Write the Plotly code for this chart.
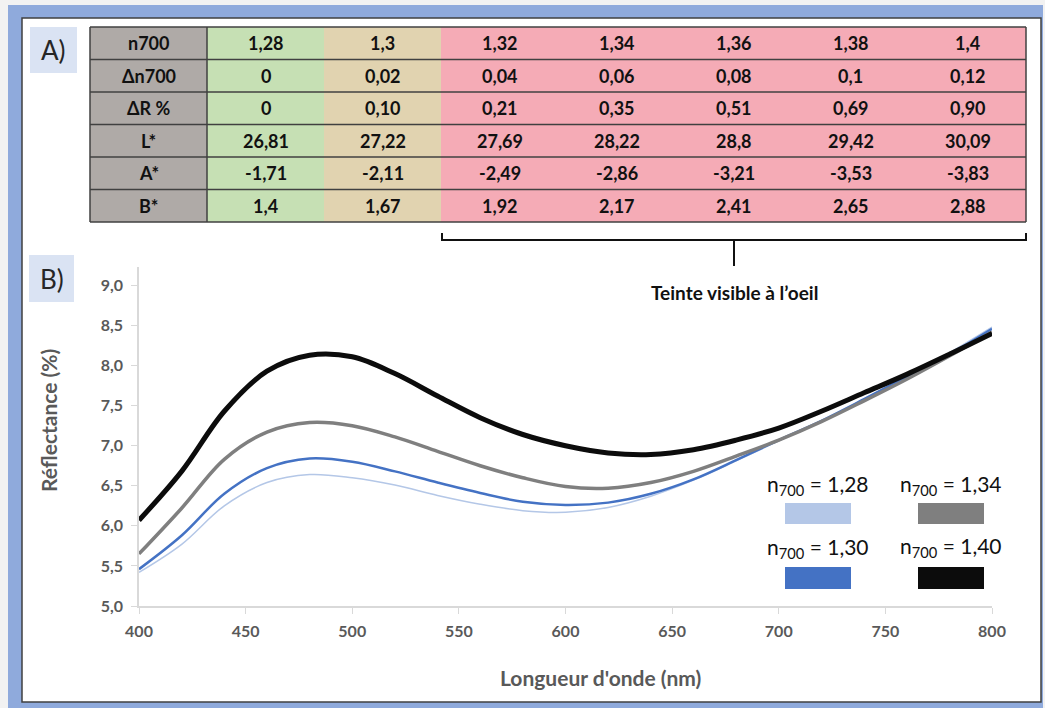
import plotly.graph_objects as go

# wavelengths (nm) and reflectance curves (%)
wl = [400, 420, 440, 460, 480, 500, 520, 540, 560, 580, 600, 620, 640, 660, 680, 700, 720, 740, 760, 780, 800]
r_128 = [5.42, 5.77, 6.25, 6.54, 6.64, 6.60, 6.51, 6.38, 6.27, 6.19, 6.17, 6.23, 6.37, 6.57, 6.81, 7.06, 7.31, 7.58, 7.87, 8.16, 8.48]
r_130 = [5.46, 5.88, 6.40, 6.72, 6.84, 6.80, 6.68, 6.54, 6.41, 6.30, 6.26, 6.29, 6.40, 6.58, 6.82, 7.07, 7.31, 7.58, 7.86, 8.14, 8.46]
r_134 = [5.65, 6.22, 6.83, 7.17, 7.29, 7.25, 7.11, 6.93, 6.75, 6.60, 6.49, 6.47, 6.54, 6.68, 6.87, 7.07, 7.30, 7.56, 7.83, 8.12, 8.42]
r_140 = [6.07, 6.68, 7.43, 7.93, 8.13, 8.11, 7.90, 7.62, 7.35, 7.14, 7.00, 6.91, 6.89, 6.95, 7.07, 7.22, 7.43, 7.66, 7.89, 8.14, 8.40]

# table A)
row_labels = ["n700", "Δn700", "ΔR %", "L*", "A*", "B*"]
n700 = ["1,28", "1,3", "1,32", "1,34", "1,36", "1,38", "1,4"]
dn700 = ["0", "0,02", "0,04", "0,06", "0,08", "0,1", "0,12"]
dR = ["0", "0,10", "0,21", "0,35", "0,51", "0,69", "0,90"]
L = ["26,81", "27,22", "27,69", "28,22", "28,8", "29,42", "30,09"]
A = ["-1,71", "-2,11", "-2,49", "-2,86", "-3,21", "-3,53", "-3,83"]
B = ["1,4", "1,67", "1,92", "2,17", "2,41", "2,65", "2,88"]
table_rows = [n700, dn700, dR, L, A, B]

legend_labels = ["1,28", "1,30", "1,34", "1,40"]

W, H = 1045, 708
FONT = "Lato"


def fx(p):
    return p / W


def fy(p):
    return 1 - p / H


def label(txt, x, y, size, color="#111111", weight="normal", angle=0):
    return dict(text=txt, xref="paper", yref="paper", x=fx(x), y=fy(y), xanchor="center", yanchor="middle",
                textangle=angle, showarrow=False, font=dict(family=FONT, size=size, color=color, weight=weight))


fig = go.Figure()

series = [(r_128, "#B4C7E7", 1.5), (r_130, "#4472C4", 2.5),
          (r_134, "#7F7F7F", 3.5), (r_140, "#0C0C0C", 5)]
for vals, col, w in series:
    fig.add_trace(go.Scatter(x=wl, y=vals, mode="lines", line=dict(color=col, width=w, shape="spline", smoothing=1),
                             showlegend=False, hoverinfo="skip"))

shapes = []
ann = []

# outer frame
shapes.append(dict(type="rect", xref="paper", yref="paper", x0=0, x1=1, y0=0, y1=1,
                   fillcolor="#F2F2F2", line_width=0, layer="below"))
shapes.append(dict(type="rect", xref="paper", yref="paper", x0=fx(8), x1=fx(1043), y0=fy(708), y1=fy(5),
                   fillcolor="#8FAADC", line_width=0, layer="below"))
shapes.append(dict(type="rect", xref="paper", yref="paper", x0=fx(22), x1=fx(1041), y0=fy(702), y1=fy(18),
                   fillcolor="white", line=dict(color="#404040", width=1.5), layer="below"))

# A) / B) labels
for lab, x0, x1, y0, y1 in [("A)", 30, 77, 27, 73), ("B)", 29, 74, 255, 302)]:
    shapes.append(dict(type="rect", xref="paper", yref="paper", x0=fx(x0), x1=fx(x1), y0=fy(y1), y1=fy(y0),
                       fillcolor="#DAE3F3", line_width=0, layer="below"))
    ann.append(label(lab, (x0 + x1) / 2, (y0 + y1) / 2, 26, "#262626"))

# table
tx0, cw, ty0, rh = 90, 117, 27, 32.5
col_fill = ["#AFAAA7", "#C6E0B4", "#E1D3B0"] + ["#F5ABB6"] * 5
ncol = 8
for c in range(ncol):
    shapes.append(dict(type="rect", xref="paper", yref="paper",
                       x0=fx(tx0 + c * cw), x1=fx(tx0 + (c + 1) * cw),
                       y0=fy(ty0 + 6 * rh), y1=fy(ty0), fillcolor=col_fill[c], line_width=0, layer="below"))
for r in range(7):
    shapes.append(dict(type="line", xref="paper", yref="paper", x0=fx(tx0), x1=fx(tx0 + ncol * cw),
                       y0=fy(ty0 + r * rh), y1=fy(ty0 + r * rh), line=dict(color="#404040", width=1.5)))
for xv in [tx0, tx0 + cw, tx0 + ncol * cw]:
    shapes.append(dict(type="line", xref="paper", yref="paper", x0=fx(xv), x1=fx(xv),
                       y0=fy(ty0), y1=fy(ty0 + 6 * rh), line=dict(color="#404040", width=1.5)))
for r, (lab, vals) in enumerate(zip(row_labels, table_rows)):
    yc = ty0 + (r + 0.5) * rh
    for c, txt in enumerate([lab] + vals):
        ann.append(label(txt, tx0 + (c + 0.5) * cw, yc, 18, "#111111", "bold"))

# bracket under the pink columns
bx0, bx1, by = tx0 + 3 * cw + 1, tx0 + ncol * cw, 240
bm = (bx0 + bx1) / 2
shapes.append(dict(type="path", xref="paper", yref="paper",
                   path=f"M {fx(bx0)} {fy(233)} L {fx(bx0)} {fy(by)} L {fx(bx1)} {fy(by)} L {fx(bx1)} {fy(233)}",
                   line=dict(color="#111111", width=2)))
shapes.append(dict(type="line", xref="paper", yref="paper", x0=fx(bm), x1=fx(bm), y0=fy(by), y1=fy(266),
                   line=dict(color="#111111", width=2)))
ann.append(label("Teinte visible à l’oeil", bm, 292, 19, "#111111", "bold"))

# axis titles
ann.append(label("Réflectance (%)", 48, 421, 21, "#595959", "bold", -90))
ann.append(label("Longueur d'onde (nm)", 600, 677, 21, "#595959", "bold"))

# custom legend
leg_pos = [(818, 485, 785, 851, 503, 524), (818, 548, 785, 851, 567, 589),
           (951, 485, 918, 984, 503, 524), (951, 547, 918, 984, 567, 589)]
for (vals, col, w), lab, (tx, ty, x0, x1, y0, y1) in zip(series, legend_labels, leg_pos):
    ann.append(label(f"n<sub>700</sub> = {lab}", tx, ty, 21))
    shapes.append(dict(type="rect", xref="paper", yref="paper", x0=fx(x0), x1=fx(x1), y0=fy(y1), y1=fy(y0),
                       fillcolor=col, line_width=0))

axis_font = dict(family=FONT, size=16, color="#595959", weight="bold")
fig.update_layout(
    width=W, height=H, margin=dict(l=0, r=0, t=0, b=0, autoexpand=False),
    paper_bgcolor="white", plot_bgcolor="rgba(0,0,0,0)",
    separators=",.",
    shapes=shapes, annotations=ann,
    xaxis=dict(domain=[fx(139), fx(992)], range=[400, 800], dtick=50, tick0=400, automargin=False,
               showline=True, linecolor="#D9D9D9", linewidth=1.5, ticks="outside", tickcolor="#D9D9D9",
               ticklen=6, ticklabelstandoff=4, showgrid=False, zeroline=False, tickfont=axis_font),
    yaxis=dict(domain=[fy(606), fy(267)], range=[5, 9.23], dtick=0.5, tick0=5, tickformat=".1f", automargin=False,
               showline=True, linecolor="#D9D9D9", linewidth=1.5, ticks="outside", tickcolor="#D9D9D9",
               ticklen=6, ticklabelstandoff=5, showgrid=False, zeroline=False, tickfont=axis_font),
)

fig.write_html("out.html", config={"displayModeBar": False},
               post_script="document.body.style.margin='0';")
